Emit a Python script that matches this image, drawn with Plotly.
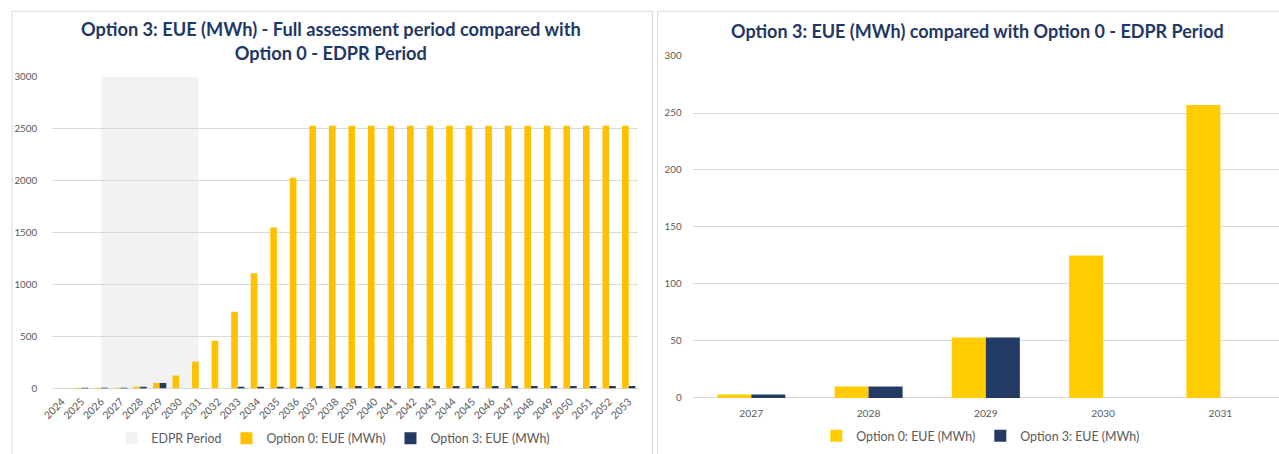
import plotly.graph_objects as go

# ---------------- data ----------------
years_full = [str(y) for y in range(2024, 2054)]
opt0_full = [0, 3, 3, 3, 10, 53, 125, 257, 460, 740, 1110, 1550, 2030] + [2530] * 17
opt3_full = [0, 3, 3, 3, 10, 53, 0, 0, 0, 10, 10, 10, 10] + [25] * 17
edpr_years = ["2027", "2028", "2029", "2030", "2031"]
edpr_band = [3000, 3000, 3000, 3000, 3000]

years_edpr = ["2027", "2028", "2029", "2030", "2031"]
opt0_edpr = [3, 10, 53, 125, 257]
opt3_edpr = [3, 10, 53, 0, 0]

left_title = "Option 3: EUE (MWh) - Full assessment period compared with<br>Option 0 - EDPR Period"
right_title = "Option 3: EUE (MWh) compared with Option 0 - EDPR Period"

# ---------------- style ----------------
W, H = 1279, 454
# the page is shown with an 8px body margin and fitted into the window,
# so target positions are converted to figure pixels here
M = 8
SX = W / (W + 2 * M)
SY = H / (H + 2 * M)
YEL_L = "#FFC000"
YEL_R = "#FFCC00"
NAVY = "#223A64"
GRID = "#D9D9D9"
TXT = "#595959"
TITLE_C = "#1F3864"
FONT = "Lato"

def px(x):
    v = (x / SX - M) / W
    return min(max(v, 0.0), 1.0)

def py(y):
    v = (H - (y / SY - M)) / H
    return min(max(v, 0.0), 1.0)

fig = go.Figure()

fig.add_trace(go.Bar(
    x=edpr_years, y=edpr_band, name="EDPR Period",
    marker=dict(color="rgba(217,217,217,0.34)", line=dict(width=0)),
    offset=-1.0, width=1.0, xaxis="x", yaxis="y", legend="legend",
    hoverinfo="skip"))
fig.add_trace(go.Bar(
    x=years_full, y=opt0_full, name="Option 0: EUE (MWh)",
    marker=dict(color=YEL_L, line=dict(width=0)),
    offset=-0.34, width=0.34, xaxis="x", yaxis="y", legend="legend"))
fig.add_trace(go.Bar(
    x=years_full, y=opt3_full, name="Option 3: EUE (MWh)",
    marker=dict(color=NAVY, line=dict(width=0)),
    offset=0.0, width=0.34, xaxis="x", yaxis="y", legend="legend"))

fig.add_trace(go.Bar(
    x=years_edpr, y=opt0_edpr, name="Option 0: EUE (MWh)",
    marker=dict(color=YEL_R, line=dict(width=0)),
    offset=-0.29, width=0.29, xaxis="x2", yaxis="y2", legend="legend2"))
fig.add_trace(go.Bar(
    x=years_edpr, y=opt3_edpr, name="Option 3: EUE (MWh)",
    marker=dict(color=NAVY, line=dict(width=0)),
    offset=0.0, width=0.29, xaxis="x2", yaxis="y2", legend="legend2"))

tick_font = dict(family=FONT, size=9.8, color=TXT)

fig.update_layout(
    width=W, height=H,
    margin=dict(l=0, r=0, t=0, b=0),
    paper_bgcolor="white", plot_bgcolor="white",
    barmode="overlay",
    font=dict(family=FONT, color=TXT),
    xaxis=dict(domain=[px(48.9), px(633)], type="category", anchor="y",
               categoryorder="array", categoryarray=years_full,
               tickangle=-45, showgrid=False, showline=False, ticks="",
               ticklabelstandoff=4, tickfont=dict(family=FONT, size=10.5, color=TXT)),
    yaxis=dict(domain=[py(393.3), py(78.3)], range=[0, 3000], dtick=500, anchor="x",
               showgrid=True, gridcolor=GRID, gridwidth=1, zeroline=True,
               zerolinecolor=GRID, zerolinewidth=1, showline=False, ticks="",
               ticklabelstandoff=14, tickfont=tick_font),
    xaxis2=dict(domain=[px(687), px(1277)], type="category", anchor="y2",
                categoryorder="array", categoryarray=years_edpr,
                showgrid=False, showline=False, ticks="",
                ticklabelstandoff=8, tickfont=dict(family=FONT, size=10.3, color=TXT)),
    yaxis2=dict(domain=[py(402.7), py(57.3)], range=[0, 300], dtick=50, anchor="x2",
                showgrid=True, gridcolor=GRID, gridwidth=1, zeroline=True,
                zerolinecolor=GRID, zerolinewidth=1, showline=False, ticks="",
                ticklabelstandoff=10, tickfont=tick_font),
    legend=dict(orientation="h", x=px(329), y=py(444), xanchor="center", yanchor="middle",
                font=dict(family=FONT, size=12.4, color=TXT), itemwidth=30,
                bgcolor="rgba(0,0,0,0)", traceorder="normal"),
    legend2=dict(orientation="h", x=px(974), y=py(441.5), xanchor="center", yanchor="middle",
                 font=dict(family=FONT, size=12.4, color=TXT), itemwidth=30,
                 bgcolor="rgba(0,0,0,0)", traceorder="normal"),
    showlegend=True,
)

fig.add_annotation(text="<b>" + left_title + "</b>", x=px(327), y=py(42.5),
                   xref="paper", yref="paper", xanchor="center", yanchor="middle",
                   showarrow=False, font=dict(family=FONT, size=18.2, color=TITLE_C))
fig.add_annotation(text="<b>" + right_title + "</b>", x=px(971), y=py(32),
                   xref="paper", yref="paper", xanchor="center", yanchor="middle",
                   showarrow=False, font=dict(family=FONT, size=18, color=TITLE_C))

fig.add_shape(type="rect", xref="paper", yref="paper",
              x0=0.0008, x1=px(647), y0=-0.05, y1=py(12),
              line=dict(color=GRID, width=1), fillcolor="rgba(0,0,0,0)", layer="below")
fig.add_shape(type="rect", xref="paper", yref="paper",
              x0=px(652), x1=1.05, y0=-0.05, y1=py(12),
              line=dict(color=GRID, width=1), fillcolor="rgba(0,0,0,0)", layer="below")

fig.write_html("out.html")
